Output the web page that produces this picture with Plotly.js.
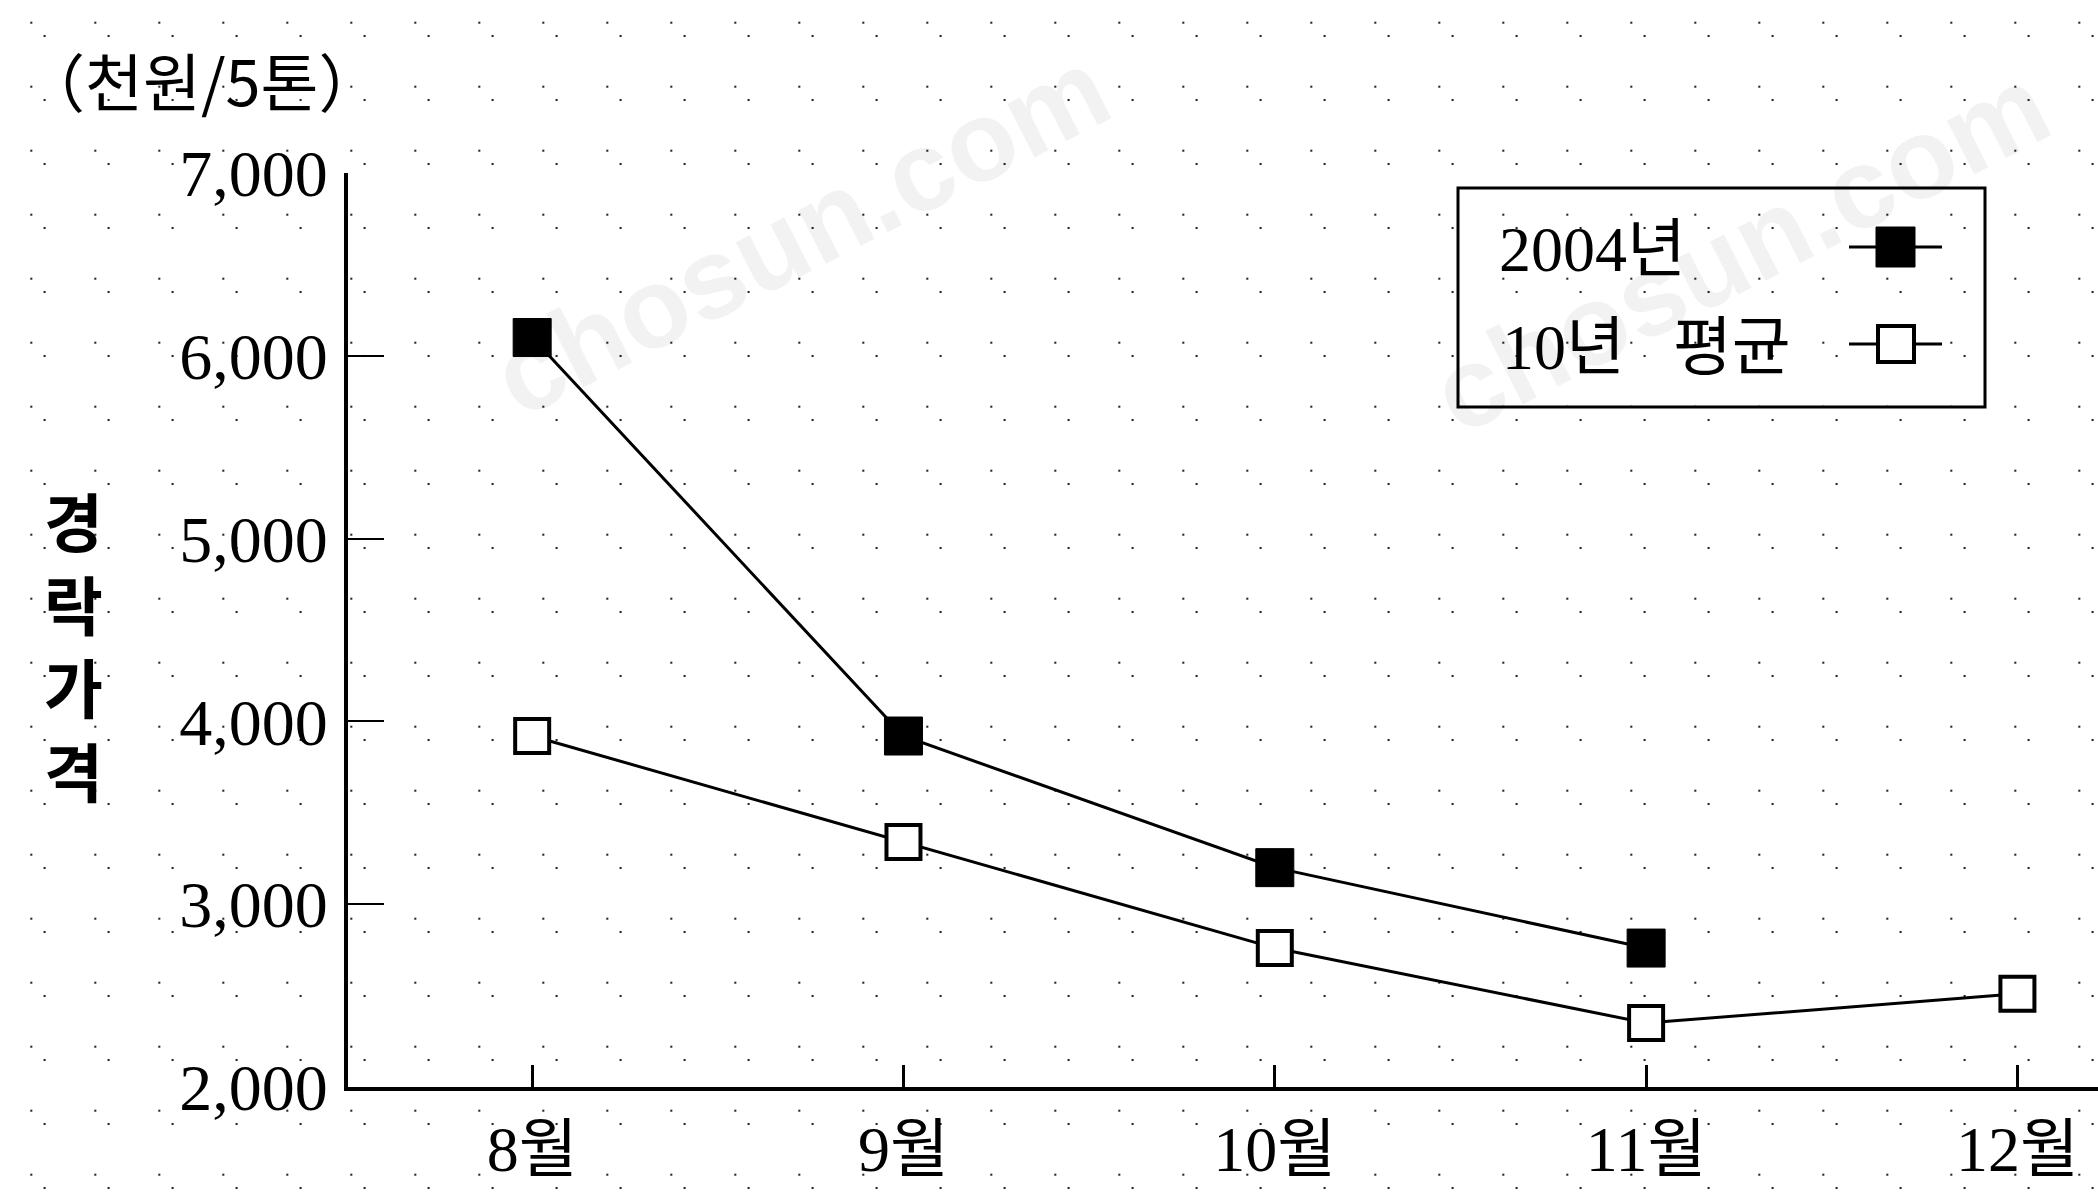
<!DOCTYPE html>
<html>
<head>
<meta charset="utf-8">
<script src="https://cdn.plot.ly/plotly-3.0.1.min.js"></script>
<style>
  html, body { margin: 0; padding: 0; overflow: hidden; }
  body {
    width: 2098px; height: 1198px;
    background-color: #ffffff;
    background-image:
      radial-gradient(circle, #222 0, #222 1px, rgba(255,255,255,0) 1.6px),
      radial-gradient(circle, #222 0, #222 1px, rgba(255,255,255,0) 1.6px);
    background-size: 64px 64px, 64px 64px;
    background-position: -0.7px -9.3px, 12.6px 4px;
  }
  #chart { width: 2098px; height: 1198px; }
</style>
</head>
<body>
<div id="chart"></div>
<script>
// ---- data ----
const months = ['8월', '9월', '10월', '11월', '12월'];
const seriesNames = ['2004년', '10년\u00a0\u00a0\u00a0평균'];
const price2004 = [6100, 3920, 3200, 2760, null];
const priceAvg10 = [3920, 3340, 2760, 2350, 2510];
const yTickVals = [2000, 3000, 4000, 5000, 6000, 7000];
const yTickText = ['2,000', '3,000', '4,000', '5,000', '6,000', '7,000'];
const unitLabel = '（천원/5톤）';
const yTitleChars = ['경', '락', '가', '격'];
const watermark = 'chosun.com';

// ---- layout geometry (pixels) ----
const W = 2098, H = 1198;
const L = 348, R = 0, T = 173, B = 111;
const plotW = W - L - R, plotH = H - T - B;
const px = x => (x - L) / plotW;
const py = y => (H - B - y) / plotH;

const serif = 'Liberation Serif, "Noto Sans CJK KR", serif';
const sansKR = '"Noto Sans CJK KR", sans-serif';
const wmFont = { family: 'Liberation Sans, Arial, sans-serif', size: 114, color: 'rgba(0,0,0,0.05)' };

const traces = [
  {
    type: 'scatter', mode: 'lines+markers', name: seriesNames[0],
    x: months, y: price2004, connectgaps: false,
    line: { color: '#000', width: 3 },
    marker: { symbol: 'square', size: 38, color: '#000', line: { color: '#000', width: 1 } },
    showlegend: false, hoverinfo: 'skip'
  },
  {
    type: 'scatter', mode: 'lines+markers', name: seriesNames[1],
    x: months, y: priceAvg10,
    line: { color: '#000', width: 3 },
    marker: { symbol: 'square', size: 34, color: '#fff', line: { color: '#000', width: 4 } },
    showlegend: false, hoverinfo: 'skip'
  }
];

// custom legend (text left, symbol right, as in the original)
const legBox = { x0: 1458, x1: 1985, y0: 188, y1: 407 };
const legRows = [250, 347];
const shapes = [
  { type: 'rect', xref: 'paper', yref: 'paper',
    x0: px(legBox.x0), x1: px(legBox.x1), y0: py(legBox.y1), y1: py(legBox.y0),
    line: { color: '#000', width: 3 }, fillcolor: 'rgba(0,0,0,0)' },
  { type: 'line', xref: 'paper', yref: 'paper',
    x0: px(1849), x1: px(1942), y0: py(legRows[0] - 3), y1: py(legRows[0] - 3),
    line: { color: '#000', width: 3 } },
  { type: 'rect', xref: 'paper', yref: 'paper',
    x0: px(1876), x1: px(1915), y0: py(267), y1: py(227),
    line: { color: '#000', width: 1 }, fillcolor: '#000' },
  { type: 'line', xref: 'paper', yref: 'paper',
    x0: px(1849), x1: px(1942), y0: py(legRows[1] - 3), y1: py(legRows[1] - 3),
    line: { color: '#000', width: 3 } },
  { type: 'rect', xref: 'paper', yref: 'paper',
    x0: px(1878), x1: px(1914), y0: py(362), y1: py(326),
    line: { color: '#000', width: 4 }, fillcolor: '#fff' }
];

const annotations = [
  { xref: 'paper', yref: 'paper', x: px(1497), y: py(legRows[0]), xanchor: 'left', yanchor: 'middle',
    text: seriesNames[0], showarrow: false, font: { family: serif, size: 64, color: '#000' } },
  { xref: 'paper', yref: 'paper', x: px(1500), y: py(legRows[1]), xanchor: 'left', yanchor: 'middle',
    text: seriesNames[1], showarrow: false, font: { family: serif, size: 64, color: '#000' } },
  { xref: 'paper', yref: 'paper', x: px(20), y: py(78), xanchor: 'left', yanchor: 'middle',
    text: unitLabel, showarrow: false, font: { family: sansKR, size: 63, color: '#000' } },
  { xref: 'paper', yref: 'paper', x: px(73), y: py(644), xanchor: 'center', yanchor: 'middle',
    text: yTitleChars.join('<br>'), showarrow: false,
    font: { family: sansKR, size: 64, color: '#000', weight: 'bold' } },
  // faint watermarks
  { xref: 'paper', yref: 'paper', x: px(800), y: py(232), xanchor: 'center', yanchor: 'middle',
    text: '<b>' + watermark + '</b>', textangle: -27, showarrow: false, font: wmFont },
  { xref: 'paper', yref: 'paper', x: px(1740), y: py(250), xanchor: 'center', yanchor: 'middle',
    text: '<b>' + watermark + '</b>', textangle: -27, showarrow: false, font: wmFont }
];

const layout = {
  width: W, height: H,
  margin: { l: L, r: R, t: T, b: B, pad: 0 },
  paper_bgcolor: 'rgba(0,0,0,0)',
  plot_bgcolor: 'rgba(0,0,0,0)',
  showlegend: false,
  xaxis: {
    type: 'category', range: [-0.496, 4.217],
    showgrid: false, zeroline: false,
    showline: true, linecolor: '#000', linewidth: 4,
    ticks: 'inside', ticklen: 22, tickwidth: 3, tickcolor: '#000',
    tickfont: { family: serif, size: 64, color: '#000' },
    ticklabelstandoff: 3,
    fixedrange: true
  },
  yaxis: {
    range: [2000, 7000],
    tickmode: 'array', tickvals: yTickVals, ticktext: yTickText,
    showgrid: false, zeroline: false,
    showline: true, linecolor: '#000', linewidth: 4,
    ticks: 'inside', ticklen: 36, tickwidth: 2, tickcolor: '#000',
    tickfont: { family: serif, size: 66, color: '#000' },
    ticklabelstandoff: 3,
    fixedrange: true
  },
  shapes: shapes,
  annotations: annotations
};

Plotly.newPlot('chart', traces, layout, { displayModeBar: false, staticPlot: true });
</script>
</body>
</html>
